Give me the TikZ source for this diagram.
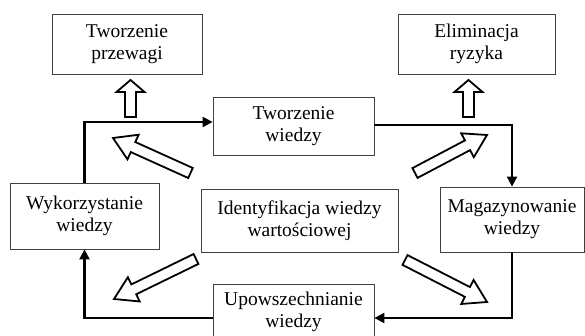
\documentclass[tikz,border=0pt]{standalone}
\usepackage{fontspec}
\setmainfont{Liberation Serif}
\usetikzlibrary{calc,arrows.meta}
\tikzset{
  box/.style={draw=black!75, line width=0.8pt, fill=white, inner sep=0pt, align=center,
    font=\fontsize{19.5}{22}\selectfont},
  conn/.style={line width=2.2pt, -{Triangle[length=10pt,width=10pt]}},
  hollow/.style={draw=black, line width=1.8pt, fill=white, line join=miter},
}
\newcommand\harrow[5]{%
  \draw[hollow] let \p1=(#1), \p2=(#2), \n1={atan2(\y2-\y1,\x2-\x1)},
    \n2={veclen(\x2-\x1,\y2-\y1)} in
    [shift={(\p1)}, rotate=\n1]
    (0,-#3) -- (\n2-#5,-#3) -- (\n2-#5,-#4) -- (\n2,0) -- (\n2-#5,#4)
    -- (\n2-#5,#3) -- (0,#3) -- cycle;}
\begin{document}
\begin{tikzpicture}[x=1pt,y=1pt]
\useasboundingbox (0,0) rectangle (585,336);
\clip (0,0) rectangle (585,336);
\fill[white] (0,0) rectangle (585,336);
% boxes
\node[box, minimum width=150pt, minimum height=60pt] (prz) at (127,292) {Tworzenie\\przewagi};
\node[box, minimum width=157pt, minimum height=60pt] (ryz) at (476.5,292) {Eliminacja\\ryzyka};
\node[box, minimum width=161pt, minimum height=58pt] (tw) at (293.5,210) {Tworzenie\\wiedzy};
\node[box, minimum width=149pt, minimum height=66pt] (wyk) at (84.5,120) {Wykorzystanie\\wiedzy};
\node[box, minimum width=197pt, minimum height=63pt] (ide) at (299.5,115.5) {Identyfikacja wiedzy\\wartościowej};
\node[box, minimum width=144pt, minimum height=65pt] (mag) at (512,116.5) {Magazynowanie\\wiedzy};
\node[box, minimum width=161pt, minimum height=68pt] (upo) at (293.5,18) {};
\node[font=\fontsize{19.5}{22}\selectfont, align=center, anchor=north, inner sep=0pt] (upot) at ([yshift=-8pt]upo.north) {Upowszechnianie\\wiedzy};
% cycle connectors
\draw[conn] (wyk.north) |- ([yshift=4pt]tw.west);
\draw[conn] ([yshift=1pt]tw.east) -| (mag.north);
\draw[conn] (mag.south) |- (upo.east);
\draw[conn] (upo.west) -| (wyk.south);
% hollow arrows
\coordinate (a1t) at (130.5,219); \coordinate (a1h) at (130.5,256);
\coordinate (a2t) at (468.5,219); \coordinate (a2h) at (468.5,256);
\coordinate (a3t) at (190.5,163); \coordinate (a3h) at (113,198);
\coordinate (a4t) at (415,163);   \coordinate (a4h) at (487,201);
\coordinate (a5t) at (196,77);    \coordinate (a5h) at (114,37);
\coordinate (a6t) at (405,76);    \coordinate (a6h) at (487,34);
\harrow{a1t}{a1h}{5.5}{14}{12}
\harrow{a2t}{a2h}{5.5}{14}{12}
\harrow{a3t}{a3h}{5.5}{13.5}{22}
\harrow{a4t}{a4h}{5.5}{13.5}{22}
\harrow{a5t}{a5h}{5.5}{13.5}{22}
\harrow{a6t}{a6h}{5.5}{13.5}{22}
\end{tikzpicture}
\end{document}
